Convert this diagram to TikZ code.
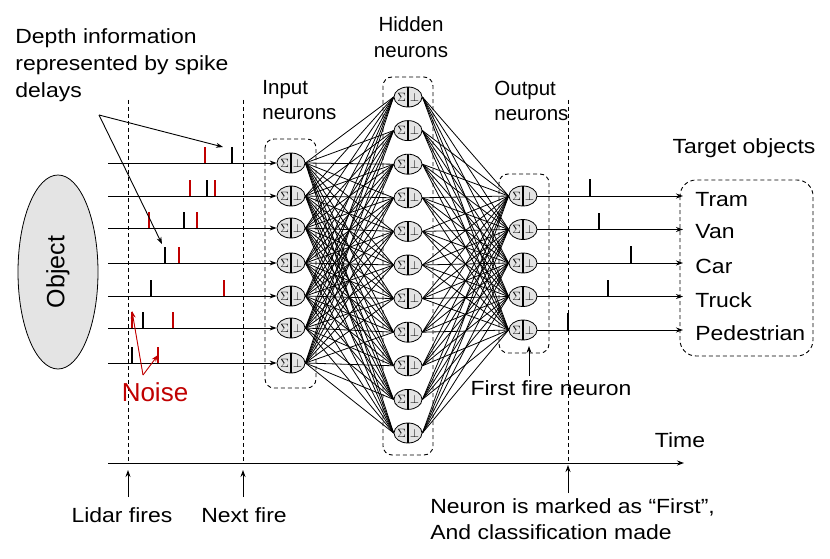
\documentclass[tikz,border=0pt]{standalone}
\usepackage{fontspec}
\setmainfont{Liberation Sans}
\newfontfamily\widefont{Liberation Sans}[FakeStretch=1.12]
\usetikzlibrary{shapes.geometric,arrows.meta}

\definecolor{noisered}{RGB}{192,0,0}
\definecolor{cellgray}{RGB}{228,228,228}
\newcommand\txtsize{\widefont\fontsize{20.5}{26}\selectfont}

\tikzset{
  neuron/.style={ellipse, draw, fill=cellgray, line width=0.8pt,
                 minimum width=28pt, minimum height=20pt, inner sep=0pt,
                 path picture={
                   \draw[line width=1.8pt] (path picture bounding box.north) -- (path picture bounding box.south);
                   \node[font=\fontsize{12}{12}\selectfont, inner sep=0pt] at ([xshift=-6.5pt]path picture bounding box.center) {$\Sigma$};
                   \node[font=\fontsize{12}{12}\selectfont, inner sep=0pt] at ([xshift=6.5pt]path picture bounding box.center) {$\bot$};
                 }},
  layerbox/.style={draw, dash pattern=on 4pt off 3pt, rounded corners=9pt, line width=0.9pt},
  timeline/.style={dash pattern=on 4pt off 3pt, line width=0.9pt},
  arr/.style={-{Stealth[length=7pt,width=5pt]}, line width=0.9pt},
  spike/.style={line width=2pt},
  txt/.style={font=\txtsize, inner sep=0pt},
  head/.style={font=\fontsize{20.5}{25}\selectfont, inner sep=0pt}
}

\begin{document}
\begin{tikzpicture}[x=1pt, y=-1pt, line width=0.8pt]
  \useasboundingbox (0,0) rectangle (830,559);

  % object
  \node[ellipse, draw=black, fill=cellgray, minimum width=80pt, minimum height=194pt,
        inner sep=0pt] (obj) at (58,272) {};
  \node[font=\fontsize{25}{25}\selectfont, rotate=90] at (obj.center) {Object};

  % dashed time marks
  \foreach \x in {128,243,568} {
      \draw[timeline] (\x,100) -- (\x,463);
  }

  % layers
  \draw[layerbox] (265,139) rectangle (316,388);
  \draw[layerbox] (383,77) rectangle (433,455);
  \draw[layerbox] (499,174) rectangle (549,353);
  \draw[layerbox, rounded corners=16pt] (680,180) rectangle (813,356);

  \foreach \y [count=\i] in {163,196,228,263,296,328,363} {
      \node[neuron] (I\i) at (291,\y) {};
      \coordinate (S\i) at (108,\y);
      \draw[arr] (S\i) -- (I\i.west);
  }
  \foreach \i in {1,...,11} {
      \node[neuron] (H\i) at (408,{97+(\i-1)*33.6}) {};
  }
  \foreach \i in {1,...,5} {
      \node[neuron] (O\i) at (523,{196+(\i-1)*33.5}) {};
      \coordinate (T\i) at (683,{196+(\i-1)*33.5});
      \draw[arr] (O\i.east) -- (T\i);
  }

  % full connections
  \foreach \i in {1,...,7} {
      \foreach \j in {1,...,11} {
          \draw (I\i.east) -- (H\j.west);
      }
  }
  \foreach \i in {1,...,11} {
      \foreach \j in {1,...,5} {
          \draw (H\i.east) -- (O\j.west);
      }
  }

  % input spikes
  \foreach \x/\y/\c in {205/163/noisered, 232/163/black,
                        190/196/noisered, 207/196/black, 215/196/noisered,
                        149/228/noisered, 184/228/black, 197/228/noisered,
                        165/263/black, 179/263/noisered,
                        151/296/black, 224/296/noisered,
                        132/328/noisered, 143/328/black, 173/328/noisered,
                        132/363/black, 158/363/noisered} {
      \draw[spike, draw=\c] (\x,\y) -- ++(0,-16);
  }

  % output spikes
  \foreach \x/\y in {590/196, 599/229.5, 631/263, 608/296.5, 568/330} {
      \draw[spike] (\x,\y) -- ++(0,-17);
  }

  % labels
  \node[txt, anchor=west, align=left, font=\widefont\fontsize{20.5}{27}\selectfont] (depth) at (15,65)
       {Depth information\\represented by spike\\delays};
  \coordinate (D) at (99,115);
  \coordinate (D1) at (223,147);
  \coordinate (D2) at (162,244);
  \draw[arr] (D) -- (D1);
  \draw[arr] (D) -- (D2);

  \node[txt, text=noisered, font=\fontsize{26}{30}\selectfont] (noise) at (155,392) {Noise};
  \coordinate (N0) at (143,375);
  \coordinate (N1) at (132,311);
  \coordinate (N2) at (158,355);
  \draw[arr, draw=noisered, fill=noisered] (N0) -- (N1);
  \draw[arr, draw=noisered, fill=noisered] (N0) -- (N2);

  \node[head, anchor=west, align=left] (inlab) at (262,100.5) {Input\\neurons};
  \node[head, align=center, font=\fontsize{20.5}{26}\selectfont] (hidlab) at (411,37) {Hidden\\neurons};
  \node[head, anchor=west, align=left] (outlab) at (494,100.5) {Output\\neurons};
  \node[txt] (target) at (744,148) {Target objects};

  \foreach \t/\y in {Tram/200, Van/232, Car/266, Truck/300, Pedestrian/333} {
      \node[txt, anchor=west] (\t) at (695,\y) {\t};
  }

  \node[txt] (first) at (551,388) {First fire neuron};
  \coordinate (F) at (529,346);
  \draw[arr] (529,376) -- (F);

  % time axis
  \coordinate (t0) at (108,463);
  \coordinate (t1) at (684,463);
  \draw[arr] (t0) -- (t1);
  \node[txt] (time) at (680,440) {Time};

  \node[txt] (lidar) at (122,515) {Lidar fires};
  \node[txt] (next) at (244,515) {Next fire};
  \node[txt, anchor=west, align=left] (marked) at (430,519)
       {Neuron is marked as “First”,\\And classification made};
  \coordinate (L) at (128,470);
  \coordinate (Nx) at (243,470);
  \coordinate (M) at (568,465);
  \draw[arr] (128,497) -- (L);
  \draw[arr] (243,497) -- (Nx);
  \draw[arr] (568,493) -- (M);
\end{tikzpicture}
\end{document}
